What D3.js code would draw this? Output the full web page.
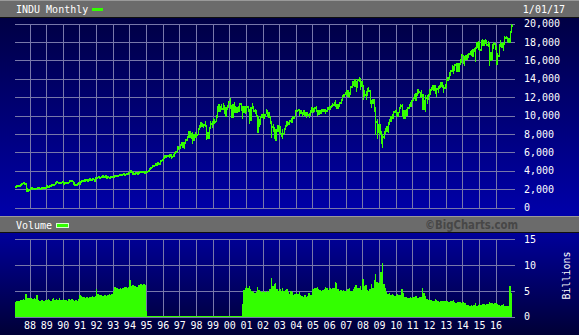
<!DOCTYPE html>
<html>
<head>
<meta charset="utf-8">
<script src="https://cdnjs.cloudflare.com/ajax/libs/d3/7.8.5/d3.min.js"></script>
<style>
  body { margin: 0; background: #000038; }
  svg { display: block; }
  text { font-family: "DejaVu Sans Mono", monospace; font-size: 10px; fill: #fff; }
</style>
</head>
<body>
<script>
// monthly INDU bars, first bar = Feb 1987, last = Dec 2016
const firstYear = 1987;
const firstMonth = 1;

const closes = [
  2224, 2305, 2286, 2292, 2419, 2572, 2663, 2596, 1994, 1834, 1939,
  1958, 2072, 1988, 2032, 2031, 2142, 2129, 2032, 2113, 2149, 2115, 2169,
  2342, 2258, 2294, 2419, 2480, 2440, 2661, 2737, 2693, 2645, 2706, 2753,
  2591, 2627, 2707, 2657, 2877, 2881, 2905, 2615, 2453, 2442, 2560, 2634,
  2736, 2882, 2914, 2888, 3028, 2907, 3025, 3044, 3017, 3069, 2895, 3169,
  3224, 3267, 3236, 3359, 3397, 3319, 3394, 3257, 3272, 3226, 3306, 3301,
  3310, 3371, 3435, 3428, 3527, 3516, 3540, 3651, 3555, 3681, 3684, 3754,
  3978, 3832, 3636, 3682, 3758, 3625, 3765, 3913, 3843, 3908, 3739, 3834,
  3843, 4011, 4158, 4321, 4465, 4556, 4709, 4647, 4789, 4756, 5075, 5117,
  5395, 5486, 5587, 5569, 5643, 5655, 5529, 5616, 5882, 6029, 6522, 6448,
  6813, 6878, 6584, 7009, 7331, 7673, 8223, 7622, 7945, 7442, 7823, 7908,
  7907, 8546, 8800, 9063, 8900, 8952, 8883, 7539, 7843, 8592, 9117, 9181,
  9359, 9307, 9786, 10789, 10560, 10971, 10655, 10829, 10337, 10730, 10878, 11497,
  10941, 10128, 10922, 10734, 10522, 10448, 10522, 11215, 10651, 10971, 10415, 10788,
  10887, 10495, 9879, 10735, 10912, 10502, 10523, 9950, 8848, 9075, 9852, 10022,
  9920, 10106, 10404, 9946, 9925, 9243, 8737, 8664, 7592, 8397, 8896, 8342,
  8054, 7891, 7992, 8480, 8850, 8985, 9234, 9416, 9275, 9801, 9782, 10454,
  10488, 10584, 10358, 10226, 10188, 10435, 10140, 10174, 10080, 10027, 10428, 10783,
  10490, 10766, 10504, 10193, 10467, 10275, 10641, 10482, 10569, 10440, 10806, 10718,
  10865, 10993, 11109, 11367, 11168, 11150, 11186, 11381, 11679, 12081, 12222, 12463,
  12622, 12269, 12354, 13063, 13628, 13409, 13212, 13358, 13896, 13930, 13372, 13265,
  12650, 12266, 12263, 12820, 12638, 11350, 11378, 11544, 10851, 9325, 8829, 8776,
  8001, 7063, 7609, 8168, 8500, 8447, 9172, 9496, 9712, 9713, 10345, 10428,
  10067, 10325, 10857, 11009, 10137, 9774, 10466, 10015, 10788, 11118, 11006, 11578,
  11892, 12226, 12320, 12811, 12570, 12414, 12143, 11614, 10913, 11955, 12046, 12218,
  12633, 12952, 13212, 13214, 12393, 12880, 13009, 13091, 13437, 13096, 13026, 13104,
  13861, 14054, 14579, 14840, 15116, 14910, 15500, 14810, 15130, 15546, 16086, 16577,
  15699, 16322, 16458, 16581, 16717, 16827, 16563, 17098, 17043, 17391, 17828, 17823,
  17165, 18133, 17776, 17841, 18011, 17620, 17690, 16528, 16285, 17664, 17720, 17425,
  16466, 16517, 17685, 17774, 17787, 17930, 18432, 18401, 18308, 18142, 19124, 19763
];

const highs = [
  2244, 2333, 2405, 2345, 2445, 2572, 2746, 2662, 2650, 2020, 2000,
  2070, 2100, 2110, 2120, 2050, 2160, 2170, 2140, 2130, 2200, 2170, 2185,
  2350, 2350, 2330, 2420, 2510, 2540, 2670, 2750, 2790, 2800, 2720, 2780,
  2840, 2680, 2760, 2770, 2890, 2940, 3000, 2920, 2690, 2560, 2580, 2660,
  2750, 2970, 2990, 3050, 3050, 3060, 3040, 3070, 3050, 3100, 3090, 3200,
  3300, 3300, 3320, 3400, 3420, 3420, 3430, 3420, 3390, 3310, 3320, 3350,
  3380, 3470, 3500, 3510, 3560, 3560, 3590, 3660, 3670, 3720, 3740, 3800,
  4000, 4010, 3900, 3750, 3800, 3830, 3800, 3920, 3990, 3960, 3930, 3880,
  3920, 4040, 4200, 4350, 4480, 4600, 4760, 4690, 4830, 4840, 5100, 5240,
  5420, 5680, 5690, 5690, 5800, 5740, 5760, 5800, 5940, 6120, 6560, 6600,
  6880, 7100, 7100, 7080, 7440, 7820, 8250, 8300, 8000, 8200, 8000, 8160,
  7980, 8590, 8930, 9250, 9210, 9070, 9370, 8880, 8200, 8700, 9450, 9400,
  9700, 9600, 10080, 11000, 11290, 11010, 11250, 11330, 11150, 10950, 11150, 11580,
  11910, 11100, 11200, 11430, 11040, 10880, 10980, 11330, 11400, 11000, 11000, 10990,
  11000, 11020, 10740, 10940, 11350, 11070, 10700, 10610, 10000, 9610, 9950, 10180,
  10270, 10180, 10670, 10630, 10360, 10000, 9370, 9080, 8780, 8540, 8930, 8960,
  8870, 8110, 8560, 8560, 8880, 9350, 9340, 9480, 9690, 9860, 9870, 10470,
  10750, 10750, 10680, 10580, 10370, 10490, 10370, 10340, 10380, 10270, 10600, 10870,
  10860, 10850, 10980, 10580, 10560, 10650, 10720, 10720, 10700, 10620, 10940, 10960,
  11050, 11140, 11340, 11410, 11670, 11260, 11260, 11440, 11730, 12170, 12360, 12540,
  12630, 12790, 12520, 13160, 13690, 13700, 14020, 13770, 14000, 14200, 13980, 13800,
  13340, 12770, 12640, 13000, 13140, 12770, 11700, 11840, 11800, 10910, 9650, 9030,
  9090, 8320, 7970, 8280, 8580, 8880, 9300, 9650, 9920, 10120, 10450, 10580,
  10730, 10430, 10900, 11260, 11220, 10590, 10600, 10720, 10860, 11240, 11450, 11630,
  11990, 12390, 12420, 12880, 12930, 12570, 12750, 12290, 11720, 12280, 12200, 12290,
  12840, 13000, 13290, 13340, 13340, 12900, 13160, 13330, 13660, 13660, 13290, 13430,
  13970, 14150, 14590, 14890, 15540, 15340, 15630, 15660, 15710, 15720, 16170, 16590,
  16590, 16400, 16630, 16630, 16740, 16980, 17150, 17130, 17350, 17400, 17890, 18100,
  18000, 18250, 18290, 18180, 18350, 18170, 18140, 17930, 16930, 17800, 17980, 17900,
  17410, 16800, 17790, 18170, 17890, 18020, 18620, 18670, 18500, 18400, 19160, 19990
];

const lows = [
  2135, 2220, 2216, 2215, 2278, 2400, 2546, 2492, 1738, 1767, 1766,
  1880, 1930, 1980, 1975, 1930, 1990, 2050, 1990, 2000, 2100, 2030, 2080,
  2140, 2230, 2230, 2280, 2370, 2420, 2430, 2630, 2650, 2520, 2580, 2660,
  2530, 2560, 2620, 2620, 2640, 2830, 2850, 2450, 2440, 2340, 2400, 2540,
  2450, 2700, 2840, 2840, 2860, 2870, 2900, 2850, 2970, 2940, 2840, 2830,
  3140, 3180, 3200, 3190, 3320, 3240, 3260, 3200, 3230, 3130, 3190, 3240,
  3230, 3300, 3340, 3350, 3380, 3440, 3460, 3520, 3510, 3540, 3580, 3640,
  3720, 3790, 3580, 3560, 3620, 3600, 3600, 3730, 3810, 3760, 3640, 3650,
  3800, 3820, 3970, 4150, 4300, 4430, 4520, 4550, 4600, 4650, 4750, 5020,
  5000, 5350, 5430, 5480, 5410, 5580, 5280, 5520, 5580, 5870, 6000, 6200,
  6400, 6720, 6530, 6340, 6960, 7200, 7650, 7550, 7500, 6940, 7200, 7580,
  7510, 7890, 8440, 8750, 8800, 8600, 8760, 7370, 7400, 7460, 8540, 8690,
  8990, 9100, 9280, 9770, 10380, 10400, 10610, 10600, 10180, 9880, 10550, 10950,
  10720, 9730, 9730, 10300, 10300, 10300, 10400, 10600, 10580, 9650, 10300, 10200,
  10400, 10390, 9100, 9390, 10700, 10410, 10160, 9830, 8060, 8800, 9070, 9720,
  9620, 9580, 10210, 9900, 9730, 9120, 7530, 8200, 7570, 7200, 8250, 8230,
  8000, 7670, 7420, 7990, 8390, 8830, 8950, 9010, 9240, 9370, 9620, 9850,
  10400, 10450, 10000, 10150, 9850, 10060, 9900, 9780, 10000, 9700, 10030, 10400,
  10300, 10440, 10400, 10000, 10090, 10250, 10250, 10400, 10330, 10160, 10380, 10680,
  10650, 10800, 10950, 10980, 10960, 10700, 10680, 10950, 11250, 11660, 11980, 12180,
  12260, 12020, 11940, 12350, 12980, 13220, 13050, 12520, 13000, 13650, 12720, 13150,
  11640, 12020, 11730, 12120, 12530, 11280, 10830, 11220, 10370, 7880, 7450, 8150,
  7910, 7060, 6470, 7490, 8000, 8220, 8090, 9000, 9300, 9670, 9680, 10240,
  10030, 9840, 10300, 10840, 9870, 9740, 9610, 9930, 9990, 10750, 10930, 11020,
  11580, 11860, 11550, 12160, 12300, 11860, 12050, 10600, 10600, 10360, 11230, 11730,
  12210, 12620, 12760, 12710, 12390, 12040, 12490, 12990, 13080, 13050, 12470, 12880,
  13100, 13700, 13940, 14300, 14760, 14550, 14900, 14760, 14780, 14720, 15500, 15700,
  15690, 15340, 16000, 16020, 16300, 16570, 16560, 16330, 16900, 15860, 17300, 17070,
  17130, 17040, 17580, 17580, 17760, 17590, 17400, 15370, 15940, 16010, 17200, 17140,
  15450, 15500, 16410, 17480, 17330, 17060, 17710, 18290, 17990, 17880, 17880, 19170
];

// volume, billions
const volumes = [
  2.9, 3.0, 3.1, 3.1, 3.3, 3.2, 3.4, 3.3, 4.4, 3.7, 3.6,
  3.6, 3.7, 3.5, 3.6, 3.5, 4.3, 3.2, 3.1, 3.2, 3.3, 3.1, 3.2,
  3.3, 3.4, 3.2, 3.1, 3.5, 3.6, 3.3, 3.4, 3.3, 3.6, 3.2, 3.3,
  3.4, 3.3, 3.2, 3.1, 3.5, 3.3, 3.4, 3.2, 3.0, 3.3, 3.1, 3.4,
  4.2, 4.0, 3.9, 3.8, 3.7, 3.9, 3.6, 3.8, 3.9, 4.0, 3.9, 4.1,
  5.4, 4.4, 4.2, 4.3, 4.0, 4.1, 4.2, 4.0, 4.3, 4.4, 4.2, 4.4,
  5.0, 5.7, 5.5, 5.6, 5.4, 5.5, 5.3, 5.6, 5.7, 5.8, 5.6, 5.7,
  7.1, 6.0, 6.2, 5.9, 6.0, 5.8, 6.1, 6.2, 6.3, 6.1, 6.4, 6.2,
  1.2, 0.15, 0.15, 0.15, 0.15, 0.15, 0.15, 0.15, 0.15, 0.15, 0.15, 0.15,
  0.15, 0.15, 0.15, 0.15, 0.15, 0.15, 0.15, 0.15, 0.15, 0.15, 0.15, 0.15,
  0.15, 0.15, 0.15, 0.15, 0.15, 0.15, 0.15, 0.15, 0.15, 0.15, 0.15, 0.15,
  0.15, 0.15, 0.15, 0.15, 0.15, 0.15, 0.15, 0.15, 0.15, 0.15, 0.15, 0.15,
  0.15, 0.15, 0.15, 0.15, 0.15, 0.15, 0.15, 0.15, 0.15, 0.15, 0.15, 0.15,
  0.15, 0.15, 0.15, 0.15, 0.15, 0.15, 0.15, 0.15, 0.15, 2.5, 5.2, 5.6,
  5.9, 5.5, 6.0, 5.4, 4.9, 4.7, 4.6, 4.8, 5.8, 5.2, 4.9, 4.8,
  5.0, 4.8, 4.7, 4.9, 4.8, 5.4, 7.5, 5.9, 6.4, 6.6, 5.4, 5.0,
  5.3, 5.0, 5.6, 5.0, 5.1, 5.3, 4.8, 4.4, 4.9, 4.7, 4.3, 4.4,
  4.6, 4.4, 4.7, 4.2, 4.1, 3.9, 4.2, 3.9, 4.0, 4.5, 4.3, 4.2,
  5.3, 5.5, 5.6, 5.8, 5.3, 5.2, 5.0, 5.1, 5.3, 5.8, 5.5, 5.2,
  5.6, 5.4, 5.6, 5.5, 6.8, 6.5, 5.4, 4.9, 5.1, 5.0, 5.2, 4.9,
  5.0, 5.4, 5.6, 4.9, 5.0, 5.3, 5.7, 6.1, 5.5, 5.6, 6.0, 5.2,
  7.4, 6.0, 6.2, 5.1, 4.9, 5.3, 6.4, 5.5, 7.1, 8.2, 6.8, 6.5,
  6.8, 8.6, 10.4, 6.3, 5.6, 4.8, 4.4, 4.6, 4.3, 4.4, 4.2, 4.1,
  4.3, 4.4, 4.2, 4.3, 5.3, 4.6, 3.9, 3.8, 3.6, 3.7, 3.8, 3.6,
  3.8, 3.9, 4.0, 3.6, 3.7, 3.9, 3.8, 5.5, 4.6, 4.1, 3.5, 3.2,
  3.3, 3.2, 3.1, 3.0, 3.4, 3.3, 3.0, 2.8, 3.1, 3.0, 3.1, 3.0,
  3.1, 3.0, 2.9, 3.0, 3.1, 3.2, 2.8, 2.7, 2.8, 2.9, 2.8, 2.7,
  2.8, 2.7, 2.6, 2.3, 2.2, 2.1, 2.2, 2.1, 2.2, 2.6, 2.1, 2.3,
  2.4, 2.3, 2.5, 2.4, 2.3, 2.5, 2.4, 2.9, 2.7, 2.6, 2.5, 2.6,
  2.7, 2.5, 2.3, 2.1, 2.2, 2.5, 2.1, 2.0, 2.1, 2.0, 6.0, 4.6
];

const yearTicks = d3.range(1988, 2017);
const priceTicks = [0, 2000, 4000, 6000, 8000, 10000, 12000, 14000, 16000, 18000, 20000];
const volumeTicks = [0, 5, 10, 15];

const W = 579, H = 335;
const left = 15, right = 515;
const green = '#33ff00';
const gridColor = '#7878aa';

const svg = d3.select('body').append('svg')
    .attr('width', W)
    .attr('height', H)
    .attr('shape-rendering', 'crispEdges');

const defs = svg.append('defs');
const gradTop = defs.append('linearGradient').attr('id', 'gTop').attr('x1', 0).attr('x2', 0).attr('y1', 0).attr('y2', 1);
gradTop.append('stop').attr('offset', 0).attr('stop-color', '#000044');
gradTop.append('stop').attr('offset', 1).attr('stop-color', '#0000aa');
const gradVol = defs.append('linearGradient').attr('id', 'gVol').attr('x1', 0).attr('x2', 0).attr('y1', 0).attr('y2', 1);
gradVol.append('stop').attr('offset', 0).attr('stop-color', '#00009a');
gradVol.append('stop').attr('offset', 1).attr('stop-color', '#000036');
defs.append('clipPath').attr('id', 'plotClip')
    .append('rect').attr('x', left).attr('y', 0).attr('width', right - left).attr('height', H);

// panels and header bars
svg.append('rect').attr('x', 0).attr('y', 18).attr('width', W).attr('height', 198).attr('fill', 'url(#gTop)');
svg.append('rect').attr('x', 0).attr('y', 233).attr('width', W).attr('height', H - 233).attr('fill', 'url(#gVol)');

const header = (y0, h) => {
    svg.append('rect').attr('x', 0).attr('y', y0).attr('width', W).attr('height', h).attr('fill', '#6b6b6b');
    svg.append('rect').attr('x', 0).attr('y', y0).attr('width', W).attr('height', 1).attr('fill', '#9a9a9a');
    svg.append('rect').attr('x', 0).attr('y', y0 + h).attr('width', W).attr('height', 1).attr('fill', '#101010');
};
header(0, 17);
header(216, 16);

// scales
const x = d3.scaleLinear().domain([1988, 2016]).range([29.5, 495.6]);
const y = d3.scaleLinear().domain([0, 20000]).range([207.5, 23.5]);
const yv = d3.scaleLinear().domain([0, 15]).range([316.7, 239.3]);

const styleAxis = (g) => {
    g.select('.domain').remove();
    g.selectAll('.tick line').attr('stroke', gridColor);
    g.selectAll('.tick text').attr('fill', '#fff').style('font-family', '"DejaVu Sans Mono", monospace').style('font-size', '10px');
};

// price panel grid + labels
svg.append('g')
    .attr('transform', `translate(0,${y(0)})`)
    .call(d3.axisBottom(x).tickValues(yearTicks).tickSize(-(y(0) - y(20000))).tickFormat(''))
    .call(styleAxis);
svg.append('g')
    .attr('transform', `translate(${right},0)`)
    .call(d3.axisRight(y).tickValues(priceTicks).tickSize(-(right - left)).tickPadding(9).tickFormat(d3.format(',')))
    .call(styleAxis)
    .call(g => g.selectAll('.tick text').attr('text-anchor', 'start'));

// volume panel grid + labels
svg.append('g')
    .attr('transform', `translate(0,${yv(0)})`)
    .call(d3.axisBottom(x).tickValues(yearTicks).tickSize(-(yv(0) - yv(15))).tickPadding(5)
        .tickFormat(d => String(d % 100).padStart(2, '0')))
    .call(styleAxis);
svg.append('g')
    .attr('transform', `translate(${right},0)`)
    .call(d3.axisRight(yv).tickValues(volumeTicks).tickSize(-(right - left)).tickPadding(9))
    .call(styleAxis);

// price bars: high-low line plus close tick
const t = i => firstYear + (firstMonth + i) / 12;
const bars = svg.append('g').attr('clip-path', 'url(#plotClip)').attr('fill', green);
bars.selectAll('rect.hl')
    .data(closes)
    .join('rect')
    .attr('class', 'hl')
    .attr('x', (d, i) => x(t(i)) + 0.3)
    .attr('width', 1.2)
    .attr('y', (d, i) => y(highs[i]))
    .attr('height', (d, i) => Math.max(1, y(lows[i]) - y(highs[i])));
bars.selectAll('rect.cl')
    .data(closes)
    .join('rect')
    .attr('class', 'cl')
    .attr('x', (d, i) => x(t(i)) + 0.3)
    .attr('width', 2)
    .attr('y', d => y(d) - 1)
    .attr('height', 2);

// volume bars
svg.append('g').attr('clip-path', 'url(#plotClip)')
    .selectAll('rect')
    .data(volumes)
    .join('rect')
    .attr('x', (d, i) => x(t(i)))
    .attr('width', (d, i) => x(t(i + 1)) - x(t(i)))
    .attr('y', d => yv(d))
    .attr('height', d => yv(0) - yv(d))
    .attr('fill', green);

// header texts
svg.append('text').attr('x', 16).attr('y', 13).text('INDU Monthly');
svg.append('rect').attr('x', 92).attr('y', 8).attr('width', 11).attr('height', 3).attr('fill', green);
svg.append('text').attr('x', 565).attr('y', 13).attr('text-anchor', 'end').text('1/01/17');

svg.append('text').attr('x', 16).attr('y', 229).text('Volume');
svg.append('rect').attr('x', 56.5).attr('y', 223.5).attr('width', 12).attr('height', 4)
    .attr('fill', green).attr('stroke', '#d8ffd0');
svg.append('text').attr('x', 425).attr('y', 228.5)
    .attr('textLength', 93).attr('lengthAdjust', 'spacingAndGlyphs')
    .style('font-family', '"DejaVu Sans", sans-serif').style('font-size', '12px').style('font-weight', 'bold')
    .style('fill', '#474747')
    .text('©BigCharts.com');

svg.append('text')
    .attr('transform', 'translate(570,275.5) rotate(-90)')
    .attr('text-anchor', 'middle')
    .text('Billions');
</script>
</body>
</html>
